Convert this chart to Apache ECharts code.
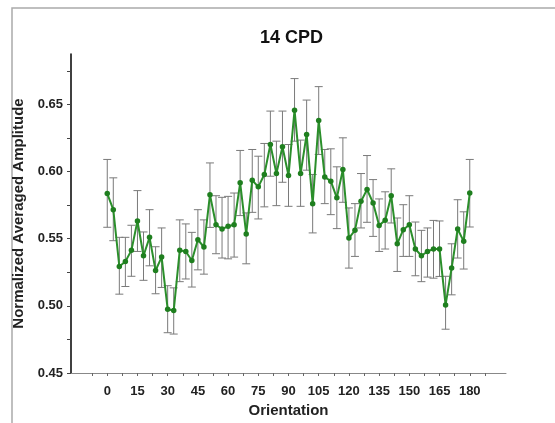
<!DOCTYPE html>
<html>
<head>
<meta charset="utf-8">
<script src="https://cdn.jsdelivr.net/npm/echarts@6/dist/echarts.min.js"></script>
<style>html,body{margin:0;padding:0;background:#fff}#c{width:555px;height:423px}</style>
</head>
<body>
<div id="c"></div>
<script>
var orientations = [0,3,6,9,12,15,18,21,24,27,30,33,36,39,42,45,48,51,54,57,60,63,66,69,72,75,78,81,84,87,90,93,96,99,102,105,108,111,114,117,120,123,126,129,132,135,138,141,144,147,150,153,156,159,162,165,168,171,174,177,180];
var meanAmp = [0.5836,0.5716,0.5293,0.533,0.5413,0.5632,0.5373,0.551,0.5263,0.5363,0.4975,0.4965,0.5413,0.5405,0.5338,0.5492,0.5438,0.5828,0.5604,0.5572,0.5592,0.5604,0.5916,0.5535,0.5935,0.5886,0.5978,0.6201,0.5985,0.6184,0.597,0.6457,0.5985,0.6276,0.5761,0.638,0.596,0.5928,0.5804,0.6015,0.5505,0.5562,0.5778,0.5866,0.5766,0.5599,0.5637,0.582,0.5462,0.5567,0.5604,0.5423,0.5373,0.5405,0.5423,0.5423,0.5007,0.5281,0.5572,0.548,0.584];
var upperAmp = [0.609,0.5953,0.551,0.551,0.560,0.5858,0.555,0.5716,0.544,0.558,0.515,0.5134,0.564,0.561,0.5547,0.5716,0.564,0.6064,0.582,0.5808,0.5815,0.584,0.6157,0.5692,0.6164,0.6114,0.6209,0.645,0.6226,0.645,0.6201,0.6692,0.6234,0.6532,0.5978,0.6632,0.6164,0.6169,0.6035,0.6251,0.5729,0.5761,0.5985,0.6119,0.594,0.5796,0.5849,0.602,0.5654,0.5753,0.582,0.5624,0.5562,0.558,0.5636,0.5632,0.522,0.5462,0.579,0.570,0.609];
var lowerAmp = [0.5585,0.5485,0.5087,0.5144,0.522,0.5405,0.519,0.5298,0.509,0.5137,0.48,0.479,0.518,0.520,0.514,0.5268,0.5236,0.5584,0.5388,0.5356,0.535,0.5363,0.5672,0.5313,0.5696,0.5647,0.5737,0.5965,0.5746,0.592,0.5741,0.6226,0.5741,0.601,0.5543,0.6127,0.5761,0.5679,0.5575,0.5771,0.5281,0.5368,0.558,0.5622,0.5517,0.5405,0.5423,0.5617,0.5256,0.5368,0.5368,0.5224,0.518,0.5214,0.5206,0.5219,0.4826,0.5082,0.5356,0.5274,0.5587];
var xTickLabels = [0,15,30,45,60,75,90,105,120,135,150,165,180];
var yTickLabels = [0.45,0.50,0.55,0.60,0.65];

var xTicks = [];
for (var t = -7.5; t <= 188; t += 7.5) xTicks.push(t);
var yTicks = [];
for (var u = 0; u <= 9; u++) yTicks.push(+(0.45 + u * 0.025).toFixed(3));

var lineData = orientations.map(function (o, i) { return [o, meanAmp[i]]; });
var errData = orientations.map(function (o, i) { return [o, lowerAmp[i], upperAmp[i]]; });

var chart = echarts.init(document.getElementById('c'), null, {renderer: 'canvas'});
var fontFam = '"Liberation Sans", Arial, sans-serif';
chart.setOption({
  animation: false,
  backgroundColor: '#fff',
  title: {
    text: '14 CPD', left: 255, top: 24,
    textStyle: {fontFamily: fontFam, fontWeight: 'bold', fontSize: 18, color: '#111'}
  },
  grid: {left: 71, right: 49, top: 54, bottom: 50},
  graphic: [{
    type: 'rect', shape: {x: 12, y: 8, width: 560, height: 430},
    style: {fill: 'none', stroke: '#aaa', lineWidth: 1.5}, silent: true, z: -1
  }],
  xAxis: {
    type: 'value', min: -18, max: 198,
    name: 'Orientation', nameLocation: 'middle', nameGap: 30,
    nameTextStyle: {fontFamily: fontFam, fontWeight: 'bold', fontSize: 15, color: '#222'},
    axisLine: {show: true, onZero: false, lineStyle: {color: '#888', width: 1}},
    axisTick: {show: true, customValues: xTicks, length: 3, lineStyle: {color: '#666'}},
    axisLabel: {customValues: xTickLabels, margin: 12, fontFamily: fontFam, fontWeight: 'bold', fontSize: 13, color: '#222'},
    splitLine: {show: false}
  },
  yAxis: {
    type: 'value', min: 0.45, max: 0.6875,
    name: 'Normalized Averaged Amplitude', nameLocation: 'middle', nameGap: 39,
    nameTextStyle: {fontFamily: fontFam, fontWeight: 'bold', fontSize: 15, color: '#222'},
    axisLine: {show: true, onZero: false, lineStyle: {color: '#000', width: 1.5}},
    axisTick: {show: true, customValues: yTicks, length: 4, lineStyle: {color: '#444'}},
    axisLabel: {customValues: yTickLabels, margin: 8, fontFamily: fontFam, fontWeight: 'bold', fontSize: 13, color: '#222',
      formatter: function (v) { return v.toFixed(2); }},
    splitLine: {show: false}
  },
  series: [{
    type: 'custom',
    data: errData,
    encode: {x: 0, y: [1, 2]},
    z: 1,
    renderItem: function (params, api) {
      var x = api.value(0);
      var lo = api.coord([x, api.value(1)]);
      var hi = api.coord([x, api.value(2)]);
      var hw = 4;
      var st = {stroke: '#7a7a7a', lineWidth: 1};
      return {type: 'group', children: [
        {type: 'line', shape: {x1: lo[0], y1: lo[1], x2: hi[0], y2: hi[1]}, style: st},
        {type: 'line', shape: {x1: lo[0] - hw, y1: lo[1], x2: lo[0] + hw, y2: lo[1]}, style: st},
        {type: 'line', shape: {x1: hi[0] - hw, y1: hi[1], x2: hi[0] + hw, y2: hi[1]}, style: st}
      ]};
    }
  }, {
    type: 'line',
    data: lineData,
    z: 3,
    symbol: 'circle', symbolSize: 5.5,
    lineStyle: {color: '#2b8f2b', width: 2},
    itemStyle: {color: '#1f7f1f'}
  }]
});
</script>
</body>
</html>
